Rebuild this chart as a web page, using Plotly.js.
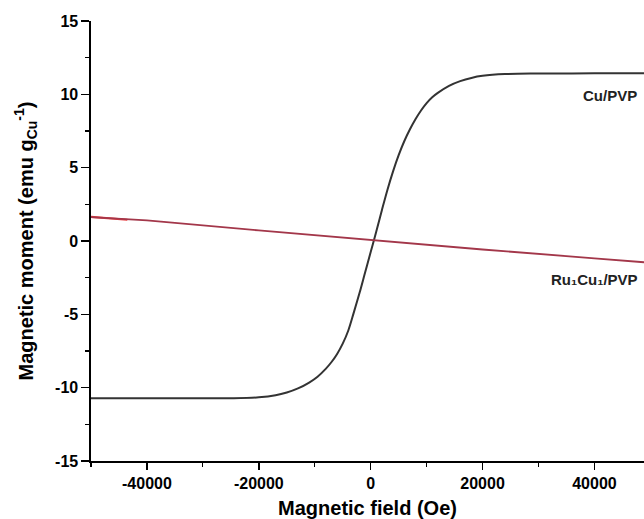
<!DOCTYPE html>
<html>
<head>
<meta charset="utf-8">
<script src="https://cdn.plot.ly/plotly-3.0.1.min.js"></script>
<style>html,body{margin:0;padding:0;background:#fff;overflow:hidden;}#chart{width:644px;height:519px;}</style>
</head>
<body>
<div id="chart"></div>
<script>
// Cu/PVP magnetisation loop (field in Oe, moment in emu/g_Cu)
const cuField  = [-50000, -40000, -30000, -25000, -20000, -17000, -15000, -13000, -11000, -9500, -8000, -7000, -6000, -5000, -4000, -3000, -2000, -1000, 0, 540, 1000, 2000, 3000, 4000, 5000, 6000, 7000, 8000, 9000, 10000, 11000, 12000, 14000, 16000, 18000, 20000, 24000, 30000, 40000, 48860];
const cuMoment = [-10.72, -10.72, -10.72, -10.72, -10.66, -10.52, -10.33, -10.05, -9.65, -9.25, -8.7, -8.25, -7.7, -7.0, -6.1, -4.85, -3.55, -2.15, -0.75, 0, 0.65, 2.1, 3.5, 4.75, 5.85, 6.8, 7.6, 8.3, 8.9, 9.4, 9.8, 10.1, 10.58, 10.9, 11.12, 11.26, 11.38, 11.42, 11.43, 11.43];

// Ru1Cu1/PVP (linear diamagnetic response)
const ruField  = [-50000, -45000, -40000, -20000, 0, 20000, 40000, 48860];
const ruMoment = [1.63, 1.52, 1.40, 0.72, 0.06, -0.58, -1.18, -1.45];
// bright red start segment of the Ru1Cu1/PVP data
const ruStartField  = [-50000, -43500];
const ruStartMoment = [1.64, 1.45];

const xTickVals = [-40000, -20000, 0, 20000, 40000];
const yTickVals = [-15, -10, -5, 0, 5, 10, 15];
const labels = ["Cu/PVP", "Ru₁Cu₁/PVP"];

const boldFont = {family: "Liberation Sans, Arial, sans-serif", color: "#000", weight: "bold"};

const traces = [
  {x: cuField, y: cuMoment, mode: "lines", line: {color: "#333333", width: 2, shape: "spline", smoothing: 1}, hoverinfo: "skip", showlegend: false},
  {x: ruStartField, y: ruStartMoment, mode: "lines", line: {color: "#e8393a", width: 2.2}, showlegend: false},
  {x: ruField, y: ruMoment, mode: "lines", line: {color: "#a3374a", width: 1.8}, showlegend: false}
];

const layout = {
  width: 644, height: 519,
  margin: {l: 91, r: 0, t: 21, b: 58},
  paper_bgcolor: "#fff", plot_bgcolor: "#fff",
  showlegend: false,
  xaxis: {
    range: [-50000, 48860], showgrid: false, zeroline: false,
    showline: true, linecolor: "#000", linewidth: 1.6,
    ticks: "outside", ticklen: 7, tickwidth: 1.4, tickcolor: "#000",
    tickvals: xTickVals, ticktext: xTickVals.map(String),
    minor: {dtick: 10000, tick0: 0, ticks: "outside", ticklen: 4, tickwidth: 1.2, tickcolor: "#000"},
    tickfont: Object.assign({size: 16}, boldFont),
    title: {text: "Magnetic field (Oe)", font: Object.assign({size: 20}, boldFont), standoff: 16},
    automargin: false
  },
  yaxis: {
    range: [-15, 15], showgrid: false, zeroline: false,
    showline: true, linecolor: "#000", linewidth: 1.6,
    ticks: "outside", ticklen: 8, tickwidth: 1.4, tickcolor: "#000",
    tickvals: yTickVals, ticktext: yTickVals.map(String),
    minor: {dtick: 2.5, tick0: 0, ticks: "outside", ticklen: 4, tickwidth: 1.2, tickcolor: "#000"},
    tickfont: Object.assign({size: 16}, boldFont),
    title: {text: "Magnetic moment (emu g<sub>Cu</sub><sup>-1</sup>)", font: Object.assign({size: 20}, boldFont), standoff: 16},
    automargin: false
  },
  annotations: [
    {x: 42730, y: 9.95, xref: "x", yref: "y", text: labels[0], showarrow: false, font: Object.assign({size: 15}, boldFont, {color: "#222"})},
    {x: 40050, y: -2.6, xref: "x", yref: "y", text: labels[1], showarrow: false, font: Object.assign({size: 15}, boldFont, {color: "#222"})}
  ]
};

Plotly.newPlot("chart", traces, layout, {staticPlot: true, displayModeBar: false});
</script>
</body>
</html>
